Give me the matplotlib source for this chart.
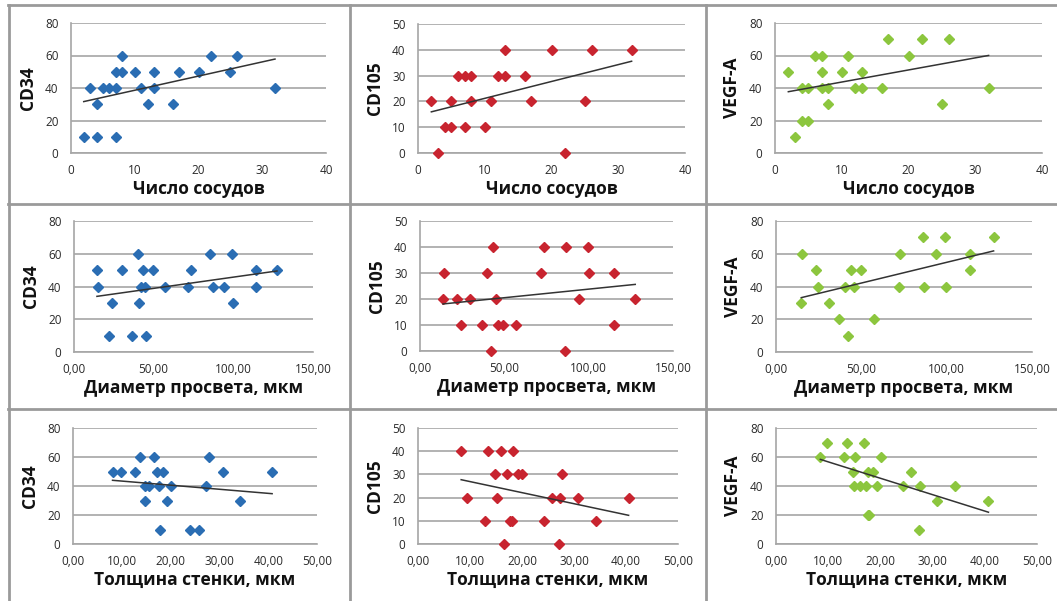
import numpy as np
import matplotlib.pyplot as plt
from matplotlib.lines import Line2D

# --- данные ---
# ряд 1: число сосудов
sos_cd34 = [2, 4, 7, 3, 4, 5, 6, 7, 7, 8, 8, 10, 11, 12, 13, 13, 16, 17, 20, 22, 25, 26, 32]
cd34_sos = [10, 10, 10, 40, 30, 40, 40, 40, 50, 50, 60, 50, 40, 30, 50, 40, 30, 50, 50, 60, 50, 60, 40]

sos_cd105 = [2, 3, 4, 5, 5, 6, 7, 7, 8, 8, 10, 11, 12, 13, 13, 16, 17, 20, 22, 25, 26, 32]
cd105_sos = [20, 0, 10, 10, 20, 30, 30, 10, 30, 20, 10, 20, 30, 30, 40, 30, 20, 40, 0, 20, 40, 40]

sos_vegf = [2, 3, 4, 4, 5, 5, 6, 7, 7, 7, 8, 8, 10, 11, 12, 13, 13, 16, 17, 20, 22, 25, 26, 32]
vegf_sos = [50, 10, 40, 20, 20, 40, 60, 60, 50, 40, 40, 30, 50, 60, 40, 50, 40, 40, 70, 60, 70, 30, 70, 40]

# ряд 2: диаметр просвета
diam_cd34 = [14.4, 15, 24, 22, 30, 36.4, 40.2, 40.8, 42.3, 43.3, 45.4, 44.8, 49.6, 57.3,
             71.5, 73.2, 85.6, 87.2, 94, 99.2, 99.8, 114.4, 114.4, 127.4]
cd34_diam = [50, 40, 30, 10, 50, 10, 60, 30, 40, 50, 10, 40, 50, 40,
             40, 50, 60, 40, 40, 60, 30, 50, 40, 50]

diam_cd105 = [14.2, 13.6, 22.1, 29.6, 24.1, 36.5, 39.8, 41.8, 43.2, 45.2, 46.2, 49.1, 57.2,
              71.8, 73.4, 86.2, 86.8, 94.1, 99.4, 100, 115.2, 115.2, 127.6]
cd105_diam = [30, 20, 20, 20, 10, 10, 30, 0, 40, 20, 10, 10, 10,
              30, 40, 0, 40, 20, 40, 30, 30, 10, 20]

diam_vegf = [15.2, 14.8, 23.6, 24.6, 31.2, 36.7, 40.6, 42, 44, 45.9, 50, 57.6,
             71.9, 72.9, 86, 86.5, 94, 98.8, 99.6, 113.9, 113.9, 127.5]
vegf_diam = [60, 30, 50, 40, 30, 20, 40, 10, 50, 40, 50, 20,
             40, 60, 70, 40, 60, 70, 40, 60, 50, 70]

# ряд 3: толщина стенки
tol_cd34 = [8.1, 9.8, 12.8, 13.7, 14.7, 14.8, 15.6, 16.5, 17.2, 17.6, 18.4, 17.9, 19.3, 20.1,
            24, 25.9, 27.3, 27.8, 30.7, 34.3, 40.8]
cd34_tol = [50, 50, 50, 60, 40, 30, 40, 60, 50, 40, 50, 10, 30, 40,
            10, 10, 40, 60, 50, 30, 50]

tol_cd105 = [8.3, 9.5, 12.8, 13.4, 14.8, 15.1, 16, 16.5, 17.2, 17.7, 18.1, 18.3, 19.2, 20,
             24.3, 25.8, 27.1, 27.4, 27.7, 30.7, 34.3, 40.5]
cd105_tol = [40, 20, 10, 40, 30, 20, 40, 0, 30, 10, 10, 40, 30, 30,
             10, 20, 0, 20, 30, 20, 10, 20]

tol_vegf = [8.5, 9.8, 13, 13.6, 14.7, 15.2, 15, 16, 16.8, 17.3, 17.7, 17.7, 17.9, 18.6, 19.3,
            20.2, 24.4, 25.8, 27.6, 27.4, 30.9, 34.3, 40.7]
vegf_tol = [60, 70, 60, 70, 50, 60, 40, 40, 70, 40, 50, 20, 20, 50, 40,
            60, 40, 50, 40, 10, 30, 40, 30]

xlabels = ['Число сосудов', 'Диаметр просвета, мкм', 'Толщина стенки, мкм']
ylabels = ['CD34', 'CD105', 'VEGF-A']

blue = '#2a6db3'
red = '#c8242f'
green = '#8cc63e'

panels = [
    (sos_cd34, cd34_sos, 0, 0, blue), (sos_cd105, cd105_sos, 0, 1, red), (sos_vegf, vegf_sos, 0, 2, green),
    (diam_cd34, cd34_diam, 1, 0, blue), (diam_cd105, cd105_diam, 1, 1, red), (diam_vegf, vegf_diam, 1, 2, green),
    (tol_cd34, cd34_tol, 2, 0, blue), (tol_cd105, cd105_tol, 2, 1, red), (tol_vegf, vegf_tol, 2, 2, green),
]

# положение осей в пикселях: left, right, top, bottom
boxes = [
    [(71, 326, 23, 153), (418, 685, 24, 153), (775, 1042, 23, 153)],
    [(74, 313, 221, 352), (420, 673, 221, 351), (776, 1032, 221, 352)],
    [(73, 317, 428, 544), (418, 678, 428, 544), (776, 1037, 428, 544)],
]
xlims = [(0, 40, 10), (0, 150, 50), (0, 50, 10)]
xfmt = [lambda v: '%d' % v, lambda v: ('%.2f' % v).replace('.', ','), lambda v: ('%.2f' % v).replace('.', ',')]

W, H = 1057, 601
plt.rcParams['font.family'] = ['Open Sans', 'DejaVu Sans']
fig = plt.figure(figsize=(W / 100, H / 100), dpi=100)

for x, y, r, c, col in panels:
    l, rr, t, b = boxes[r][c]
    ax = fig.add_axes([l / W, 1 - b / H, (rr - l) / W, (b - t) / H])
    ymax = 50 if c == 1 else 80
    ystep = 10 if c == 1 else 20
    ax.set_ylim(0, ymax)
    ax.set_yticks(np.arange(0, ymax + 1, ystep))
    x0, x1, xs = xlims[r]
    ax.set_xlim(x0, x1)
    xt = np.arange(x0, x1 + 0.1, xs)
    ax.set_xticks(xt)
    ax.set_xticklabels([xfmt[r](v) for v in xt])
    ax.grid(axis='y', color='#a6a6a6', lw=1.2)
    ax.set_axisbelow(True)
    for s in ['top', 'right']:
        ax.spines[s].set_visible(False)
    for s in ['left', 'bottom']:
        ax.spines[s].set_color('#a6a6a6')
        ax.spines[s].set_linewidth(1.2)
    ax.tick_params(length=0, labelsize=8.5, colors='#2a2a2a', pad=8)
    ax.tick_params(axis='y', pad=9)

    ax.plot(x, y, 'D', color=col, ms=4.8, mec=col, clip_on=False, zorder=3)
    k, m = np.polyfit(x, y, 1)
    xx = np.array([min(x), max(x)])
    ax.plot(xx, k * xx + m, color='#333333', lw=1.1, zorder=4)

    ax.set_xlabel(xlabels[r], fontsize=12.5, fontweight='bold', labelpad=2, color='#111111')
    ax.set_ylabel(ylabels[c], fontsize=12.5, fontweight='bold', labelpad=6, color='#111111')

# рамки таблицы
def hline(yp, x0=8, x1=W):
    fig.add_artist(Line2D([x0 / W, x1 / W], [1 - yp / H, 1 - yp / H], color='#9a9a9a', lw=2))

def vline(xp, y0=5, y1=H):
    fig.add_artist(Line2D([xp / W, xp / W], [1 - y0 / H, 1 - y1 / H], color='#9a9a9a', lw=2))

hline(5)
hline(204)
hline(409)
vline(9)
vline(350)
vline(706)

fig.savefig('out.png', dpi=100)
